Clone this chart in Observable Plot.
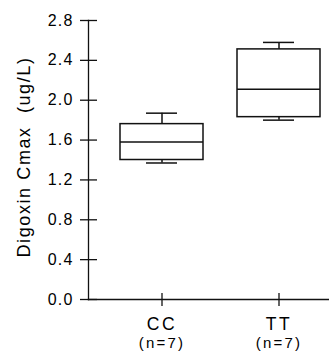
<!DOCTYPE html>
<html><head><meta charset="utf-8">
<script src="https://cdn.jsdelivr.net/npm/d3@7"></script>
<script src="https://cdn.jsdelivr.net/npm/@observablehq/plot@0.6"></script>
<style>
html,body{margin:0;padding:0;background:#fff;}
svg{display:block;}
</style>
</head><body><div id="chart"></div>
<script>
const groups = ["CC", "TT"];
const groupNotes = ["(n=7)", "(n=7)"];
const mins = [1.37, 1.80];
const q1s = [1.40, 1.83];
const medians = [1.58, 2.11];
const q3s = [1.76, 2.51];
const maxs = [1.87, 2.58];
const yTicks = [0, 0.4, 0.8, 1.2, 1.6, 2.0, 2.4, 2.8];
const yLabel = "Digoxin Cmax\u00a0 (ug/L)";

const boxes = groups.map((g, i) => ({
  group: g, note: groupNotes[i], min: mins[i], q1: q1s[i],
  median: medians[i], q3: q3s[i], max: maxs[i]
}));

const ink = "#111";
const chart = Plot.plot({
  width: 329, height: 353,
  marginLeft: 88, marginRight: 0, marginTop: 20, marginBottom: 54,
  style: {fontFamily: "'Liberation Sans', Arial, sans-serif", background: "#fff", color: "#000"},
  x: {type: "band", domain: groups, paddingInner: 0.294, paddingOuter: 0, insetLeft: 32, insetRight: 8.5},
  y: {domain: [0, 2.8]},
  marks: [
    Plot.frame({anchor: "left", stroke: ink, strokeWidth: 1.3}),
    Plot.frame({anchor: "bottom", stroke: ink, strokeWidth: 1.3}),
    Plot.axisY(yTicks, {tickSize: 8, tickPadding: 7, tickFormat: d3.format(".1f"), fontSize: 16, label: null, stroke: ink, strokeWidth: 1.3, fill: "#000"}),
    Plot.axisY(yTicks, {tickSize: 9, dx: 9, tickFormat: () => "", label: null, stroke: ink, strokeWidth: 1.3}),
    Plot.axisX({tickSize: 7, tickFormat: () => "", label: null, stroke: ink, strokeWidth: 1.3}),
    Plot.axisX({tickSize: 6, dy: -6, tickFormat: () => "", label: null, stroke: ink, strokeWidth: 1.3}),
    Plot.ruleX(boxes, {x: "group", y1: "q3", y2: "max", stroke: ink, strokeWidth: 1.5}),
    Plot.ruleX(boxes, {x: "group", y1: "min", y2: "q1", stroke: ink, strokeWidth: 1.5}),
    Plot.tickY(boxes, {x: "group", y: "max", insetLeft: 26, insetRight: 26, stroke: ink, strokeWidth: 1.5}),
    Plot.tickY(boxes, {x: "group", y: "min", insetLeft: 26, insetRight: 26, stroke: ink, strokeWidth: 1.5}),
    Plot.rectY(boxes, {x: "group", y1: "q1", y2: "q3", fill: "#fff", stroke: ink, strokeWidth: 1.5}),
    Plot.tickY(boxes, {x: "group", y: "median", stroke: ink, strokeWidth: 1.5}),
    Plot.text(boxes, {x: "group", text: "group", frameAnchor: "bottom", lineAnchor: "bottom", dy: 30, fontSize: 17.5, fill: "#000"}),
    Plot.text(boxes, {x: "group", text: "note", frameAnchor: "bottom", lineAnchor: "bottom", dy: 48, fontSize: 15, fill: "#000"}),
    Plot.text([yLabel], {text: d => d, frameAnchor: "left", textAnchor: "middle", rotate: -90, dx: -59, dy: -3, lineAnchor: "bottom", fontSize: 18, fill: "#000"})
  ]
});
document.getElementById("chart").appendChild(chart);

const texts = chart.querySelectorAll('g[aria-label="text"]');
const spacings = ["2.5px", "2.2px", "1.6px"];
texts.forEach((g, i) => { if (spacings[i]) g.style.letterSpacing = spacings[i]; });
chart.querySelectorAll('g[aria-label="y-axis tick label"]').forEach(g => g.style.letterSpacing = "1.2px");
</script>
</body></html>
